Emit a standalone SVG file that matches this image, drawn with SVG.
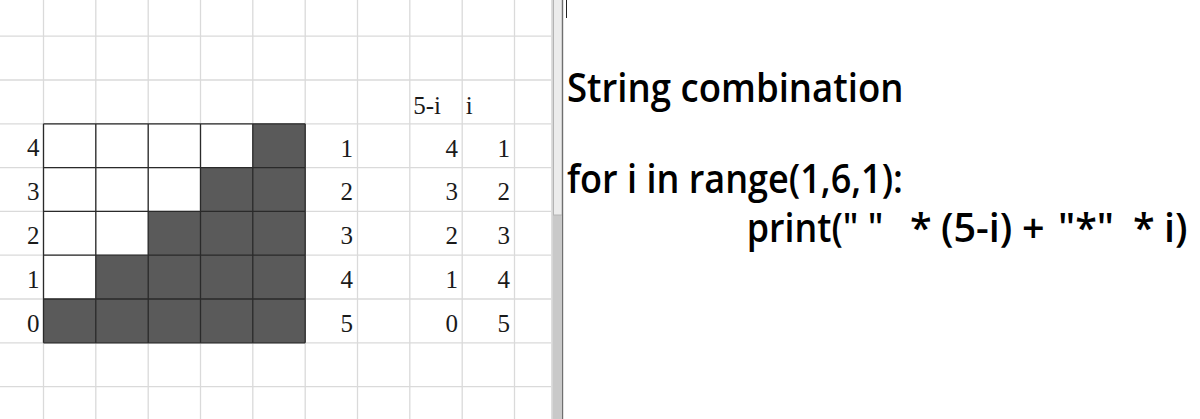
<svg xmlns="http://www.w3.org/2000/svg" width="1200" height="419" viewBox="0 0 1200 419">
<style>
.g{stroke:#dadada;stroke-width:1.3;fill:none}
.b{stroke:#2a2a2a;stroke-width:1.3;fill:none}
.dark{fill:#5a5a5a}
.num{font-family:"Liberation Serif",serif;font-size:25px;fill:#1a1a1a}
.end{text-anchor:end}
.code{font-family:"Open Sans",sans-serif;font-size:39.5px;font-weight:600;fill:#000;white-space:pre}
</style>
<rect x="0" y="0" width="1200" height="419" fill="#fff"/>
<g id="sheet-grid">
<path class="g" d="M0 36.2H551M0 80H551M0 123.8H551M0 167.6H551M0 211.4H551M0 255.2H551M0 299H551M0 342.8H551M0 386.6H551"/>
<path class="g" d="M43.5 0V419M95.8 0V419M148.2 0V419M200.5 0V419M252.8 0V419M305.2 0V419M357.5 0V419M409.8 0V419M462.2 0V419M514.5 0V419"/>
</g>
<g id="staircase">
<path class="dark" d="M252.8 123.8H305.2V342.8H43.5V299H95.8V255.2H148.2V211.4H200.5V167.6H252.8Z"/>
<path class="b" d="M43.5 123.8H305.2M43.5 167.6H305.2M43.5 211.4H305.2M43.5 255.2H305.2M43.5 299H305.2M43.5 342.8H305.2M43.5 123.8V342.8M95.8 123.8V342.8M148.2 123.8V342.8M200.5 123.8V342.8M252.8 123.8V342.8M305.2 123.8V342.8"/>
</g>
<g id="row-labels" class="num end">
<text x="39.5" y="156.3">4</text>
<text x="39.5" y="200.1">3</text>
<text x="39.5" y="243.9">2</text>
<text x="39.5" y="287.7">1</text>
<text x="39.5" y="331.5">0</text>
</g>
<g id="count-col" class="num end">
<text x="353" y="156.5">1</text>
<text x="353" y="200.3">2</text>
<text x="353" y="244.1">3</text>
<text x="353" y="287.9">4</text>
<text x="353" y="331.7">5</text>
</g>
<g id="headers" class="num">
<text x="413.3" y="114.3">5-i</text>
<text x="465.7" y="114.3">i</text>
</g>
<g id="spaces-col" class="num end">
<text x="458" y="156.5">4</text>
<text x="458" y="200.3">3</text>
<text x="458" y="244.1">2</text>
<text x="458" y="287.9">1</text>
<text x="458" y="331.7">0</text>
</g>
<g id="stars-col" class="num end">
<text x="510" y="156.5">1</text>
<text x="510" y="200.3">2</text>
<text x="510" y="244.1">3</text>
<text x="510" y="287.9">4</text>
<text x="510" y="331.7">5</text>
</g>
<g id="scrollbar">
<rect x="551" y="0" width="12" height="419" fill="#c9c9c9"/>
<rect x="551" y="0" width="1.6" height="419" fill="#dedede"/>
<rect x="553.5" y="-1" width="8.5" height="216" fill="#ececec" stroke="#b4b4b4" stroke-width="1"/>
<rect x="562" y="0" width="1.2" height="419" fill="#6f6f6f"/>
</g>
<line id="cursor" x1="566.5" y1="0" x2="566.5" y2="18" stroke="#222" stroke-width="1"/>
<g id="code-text" class="code">
<text x="567" y="101.7" textLength="336.5" lengthAdjust="spacingAndGlyphs">String combination</text>
<text x="567" y="193.3" textLength="336" lengthAdjust="spacingAndGlyphs">for i in range(1,6,1):</text>
<text y="241.7"><tspan x="746.7" textLength="136.6" lengthAdjust="spacingAndGlyphs">print(" "</tspan><tspan x="910">*</tspan><tspan x="941">(5-i)</tspan><tspan x="1022">+</tspan><tspan x="1058">"*"</tspan><tspan x="1133">*</tspan><tspan x="1164">i)</tspan></text>
</g>
</svg>
